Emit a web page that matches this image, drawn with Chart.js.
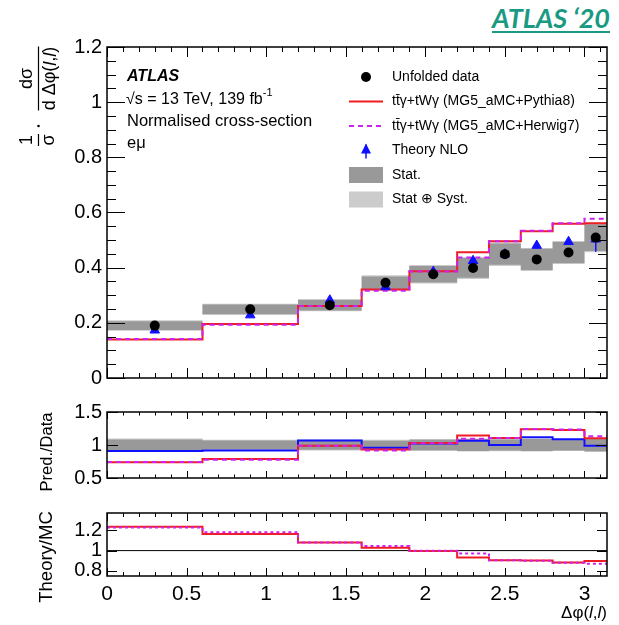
<!DOCTYPE html>
<html>
<head>
<meta charset="utf-8">
<script src="https://cdn.jsdelivr.net/npm/chart.js@4"></script>
<style>
  body { margin: 0; background: #fff; width: 619px; height: 625px; overflow: hidden; position: relative; }
  .pane { position: absolute; left: 0; }
  #badge {
    position: absolute; right: 9px; top: 1px;
    font-family: Lato, 'Open Sans', sans-serif; font-weight: bold; font-style: italic;
    font-size: 27px; color: #1a9a82; text-decoration: underline;
    text-decoration-thickness: 2px; text-underline-offset: 3px; white-space: nowrap;
  }
</style>
</head>
<body>
<div id="badge">ATLAS ‘20</div>
<canvas id="mainPad" class="pane" width="619" height="395" style="top:0"></canvas>
<canvas id="ratioPad" class="pane" width="619" height="100" style="top:395px"></canvas>
<canvas id="theoryPad" class="pane" width="619" height="130" style="top:495px"></canvas>
<script>
// Δφ(l,l) binning and normalised cross-section values
const binEdges = [0, 0.6, 1.2, 1.6, 1.9, 2.2, 2.4, 2.6, 2.8, 3.0, Math.PI];
const xTickValues = [0, 0.5, 1, 1.5, 2, 2.5, 3];
const unfoldedData = [0.190, 0.249, 0.264, 0.345, 0.376, 0.399, 0.449, 0.430, 0.455, 0.509];
const statRelErr   = [0.085, 0.070, 0.072, 0.066, 0.080, 0.090, 0.085, 0.090, 0.085, 0.095];
const totalRelErr  = [0.100, 0.080, 0.085, 0.080, 0.090, 0.100, 0.095, 0.097, 0.090, 0.105];
const mcPythia8    = [0.140, 0.196, 0.261, 0.321, 0.387, 0.456, 0.496, 0.532, 0.559, 0.561];
const mcHerwig7    = [0.141, 0.193, 0.261, 0.316, 0.386, 0.437, 0.496, 0.534, 0.561, 0.577];
const theoryNLO    = [0.173, 0.228, 0.282, 0.330, 0.385, 0.425, 0.449, 0.480, 0.494, 0.503];
const theoryErrDn  = [0.004, 0.004, 0.004, 0.004, 0.005, 0.006, 0.006, 0.008, 0.008, 0.045];
const theoryErrUp  = [0.004, 0.004, 0.004, 0.004, 0.005, 0.006, 0.006, 0.008, 0.008, 0.010];
const mainYTicks = [0, 0.2, 0.4, 0.6, 0.8, 1, 1.2];
const ratioYTicks = [0.5, 1, 1.5];
const theoryYTicks = [0.8, 1, 1.2];

const FONT = "'Liberation Sans', Arial, Helvetica, sans-serif";
const RED = '#f01c24', MAGENTA = '#cc22ee', BLUE = '#1010ff';
const DARK = '#999999', LIGHT = '#cccccc';

const centres = binEdges.slice(0, -1).map((e, i) => (e + binEdges[i + 1]) / 2);
const histo = vals => vals.flatMap((v, i) => [{x: binEdges[i], y: v}, {x: binEdges[i + 1], y: v}]);
const divide = (a, b) => a.map((v, i) => v / b[i]);
const clear = 'rgba(0,0,0,0)';

function stepLine(vals, color, width, dash, order) {
  return {data: histo(vals), borderColor: color, borderWidth: width, borderDash: dash || [],
          pointRadius: 0, fill: false, tension: 0, order};
}
function band(up, lo, color, order) {
  return [
    {data: histo(up), borderColor: clear, borderWidth: 0, pointRadius: 0, tension: 0,
     fill: '+1', backgroundColor: color, order},
    {data: histo(lo), borderColor: clear, borderWidth: 0, pointRadius: 0, tension: 0,
     fill: false, order: order + 1}
  ];
}

// ROOT-style inward ticks and frame
const framePlugin = {
  id: 'rootFrame',
  afterDraw(chart, args, o) {
    const {ctx, chartArea: a, scales: {x, y}} = chart;
    ctx.save();
    ctx.strokeStyle = '#000';
    ctx.lineWidth = 1;
    ctx.beginPath();
    for (let k = 0; k * o.xMinor <= Math.PI + 1e-9; k++) {
      const v = k * o.xMinor;
      const major = Math.abs(v / o.xMajor - Math.round(v / o.xMajor)) < 1e-6;
      const len = major ? o.xMajLen : o.xMinLen;
      const px = Math.round(x.getPixelForValue(v)) + 0.5;
      ctx.moveTo(px, a.bottom); ctx.lineTo(px, a.bottom - len);
      ctx.moveTo(px, a.top); ctx.lineTo(px, a.top + len);
    }
    const k0 = Math.ceil(y.min / o.yMinor - 1e-6), k1 = Math.floor(y.max / o.yMinor + 1e-6);
    for (let k = k0; k <= k1; k++) {
      const v = k * o.yMinor;
      const major = Math.abs(v / o.yMajor - Math.round(v / o.yMajor)) < 1e-6;
      const len = major ? o.yMajLen : o.yMinLen;
      const py = Math.round(y.getPixelForValue(v)) + 0.5;
      ctx.moveTo(a.left, py); ctx.lineTo(a.left + len, py);
      ctx.moveTo(a.right, py); ctx.lineTo(a.right - len, py);
    }
    ctx.stroke();
    ctx.lineWidth = 1.5;
    ctx.strokeRect(a.left, a.top, a.right - a.left, a.bottom - a.top);
    ctx.restore();
  }
};

function drawRuns(ctx, runs, x, y, align) {
  let total = 0;
  runs.forEach(r => { ctx.font = r[1]; total += ctx.measureText(r[0]).width; });
  let cx = align === 'center' ? x - total / 2 : align === 'right' ? x - total : x;
  ctx.textAlign = 'left';
  runs.forEach(r => { ctx.font = r[1]; ctx.fillText(r[0], cx, y + (r[2] || 0)); cx += ctx.measureText(r[0]).width; });
}
function vertical(ctx, cx, cy, fn) {
  ctx.save(); ctx.translate(cx, cy); ctx.rotate(-Math.PI / 2); fn(); ctx.restore();
}

const mainText = {
  id: 'mainText',
  afterDraw(chart) {
    const ctx = chart.ctx;
    ctx.save();
    ctx.fillStyle = '#000';
    ctx.textBaseline = 'middle';
    // experiment labels
    ctx.font = `italic bold 16px ${FONT}`;
    ctx.textAlign = 'left';
    ctx.fillText('ATLAS', 127, 77);
    drawRuns(ctx, [['√s = 13 TeV, 139 fb', `16px ${FONT}`], ['-1', `11px ${FONT}`, -7]], 126, 99.5, 'left');
    ctx.font = `16.5px ${FONT}`;
    ctx.fillText('Normalised cross-section', 127, 121);
    ctx.fillText('eμ', 127, 143);

    // legend
    const rows = [77, 101.5, 126, 150.5, 175, 199.5];
    const labels = ['Unfolded data', 'tt̄γ+tWγ (MG5_aMC+Pythia8)', 'tt̄γ+tWγ (MG5_aMC+Herwig7)',
                    'Theory NLO', 'Stat.', 'Stat ⊕ Syst.'];
    ctx.font = `14px ${FONT}`;
    labels.forEach((s, i) => ctx.fillText(s, 392, rows[i]));
    ctx.beginPath(); ctx.arc(366, rows[0], 5, 0, 2 * Math.PI); ctx.fill();
    ctx.lineWidth = 2;
    ctx.strokeStyle = RED;
    ctx.beginPath(); ctx.moveTo(349, rows[1]); ctx.lineTo(383, rows[1]); ctx.stroke();
    ctx.strokeStyle = MAGENTA; ctx.setLineDash([5, 4]);
    ctx.beginPath(); ctx.moveTo(349, rows[2]); ctx.lineTo(383, rows[2]); ctx.stroke();
    ctx.setLineDash([]);
    ctx.strokeStyle = BLUE; ctx.fillStyle = BLUE; ctx.lineWidth = 1.5;
    ctx.beginPath(); ctx.moveTo(366, rows[3] - 6); ctx.lineTo(366, rows[3] + 8); ctx.stroke();
    ctx.beginPath(); ctx.moveTo(366, rows[3] - 7); ctx.lineTo(371, rows[3] + 3);
    ctx.lineTo(361, rows[3] + 3); ctx.closePath(); ctx.fill();
    ctx.fillStyle = DARK; ctx.fillRect(349, rows[4] - 8, 34, 16);
    ctx.fillStyle = LIGHT; ctx.fillRect(349, rows[5] - 8, 34, 16);

    // y-axis title: 1/σ · dσ / dΔφ(l,l)
    ctx.fillStyle = '#000'; ctx.strokeStyle = '#000'; ctx.lineWidth = 1.2;
    const f = `18px ${FONT}`, fi = `italic 18px ${FONT}`;
    vertical(ctx, 38.5, 78.5, () => {
      ctx.textBaseline = 'middle';
      drawRuns(ctx, [['dσ', f]], 0, -11, 'center');
      drawRuns(ctx, [['d Δφ(', f], ['l', fi], [',', f], ['l', fi], [')', f]], 0, 12, 'center');
      ctx.beginPath(); ctx.moveTo(-32, 0); ctx.lineTo(32, 0); ctx.stroke();
    });
    vertical(ctx, 38.5, 140, () => {
      ctx.textBaseline = 'middle';
      drawRuns(ctx, [['1', f]], 0, -11, 'center');
      drawRuns(ctx, [['σ', f]], 0, 11, 'center');
      ctx.beginPath(); ctx.moveTo(-6, 0); ctx.lineTo(6, 0); ctx.stroke();
    });
    ctx.beginPath(); ctx.arc(38.5, 126, 1.3, 0, 2 * Math.PI); ctx.fill();
    ctx.restore();
  }
};

function sideTitle(id, text, cx, cy, size) {
  return {
    id,
    afterDraw(chart) {
      const ctx = chart.ctx;
      ctx.save();
      ctx.fillStyle = '#000';
      vertical(ctx, cx, cy, () => {
        ctx.textBaseline = 'middle';
        drawRuns(ctx, [[text, `${size}px ${FONT}`]], 0, 0, 'center');
      });
      ctx.restore();
    }
  };
}

const xTitle = {
  id: 'xTitle',
  afterDraw(chart) {
    const ctx = chart.ctx;
    ctx.save();
    ctx.fillStyle = '#000';
    ctx.textBaseline = 'middle';
    const f = `17px ${FONT}`, fi = `italic 17px ${FONT}`;
    drawRuns(ctx, [['Δφ(', f], ['l', fi], [',', f], ['l', fi], [')', f]], 607, 118, 'right');
    ctx.restore();
  }
};

function yScale(min, max, ticks, width) {
  return {
    type: 'linear', min, max, position: 'left',
    grid: {display: false, drawTicks: false}, border: {display: false},
    afterBuildTicks: s => { s.ticks = ticks.map(v => ({value: v})); },
    afterFit: s => { s.width = width; },
    ticks: {autoSkip: false, padding: 5, color: '#000', font: {family: FONT, size: 20},
            callback: v => String(Math.round(v * 100) / 100)}
  };
}
function xScale(show) {
  return {
    type: 'linear', min: 0, max: Math.PI, display: show,
    grid: {display: false, drawTicks: false}, border: {display: false},
    afterBuildTicks: s => { s.ticks = xTickValues.map(v => ({value: v})); },
    afterFit: s => { if (show) s.height = 49; },
    ticks: {autoSkip: false, maxRotation: 0, padding: 6, color: '#000', font: {family: FONT, size: 21},
            callback: v => String(v)}
  };
}
function options(padding, yCfg, showX, frame) {
  return {
    responsive: false, animation: false, events: [],
    layout: {padding},
    plugins: {legend: {display: false}, tooltip: {enabled: false}, rootFrame: frame},
    scales: {x: xScale(showX), y: yCfg}
  };
}

// main panel
const dataUpTot = unfoldedData.map((v, i) => v * (1 + totalRelErr[i]));
const dataLoTot = unfoldedData.map((v, i) => v * (1 - totalRelErr[i]));
const dataUpStat = unfoldedData.map((v, i) => v * (1 + statRelErr[i]));
const dataLoStat = unfoldedData.map((v, i) => v * (1 - statRelErr[i]));
const nloBars = centres.flatMap((c, i) => [
  {x: c, y: theoryNLO[i] - theoryErrDn[i]}, {x: c, y: theoryNLO[i] + theoryErrUp[i]}, {x: c, y: null}]);

new Chart(document.getElementById('mainPad'), {
  type: 'line',
  data: {datasets: [
    ...band(dataUpTot, dataLoTot, LIGHT, 30),
    ...band(dataUpStat, dataLoStat, DARK, 20),
    stepLine(mcPythia8, RED, 2, [], 11),
    stepLine(mcHerwig7, MAGENTA, 2, [5, 4], 10),
    {data: nloBars, borderColor: BLUE, borderWidth: 1.5, pointRadius: 0, spanGaps: false, fill: false, order: 4},
    {data: centres.map((c, i) => ({x: c, y: theoryNLO[i]})), showLine: false, pointStyle: 'triangle',
     pointRadius: 5.5, backgroundColor: BLUE, borderColor: BLUE, borderWidth: 1, order: 3},
    {data: centres.map((c, i) => ({x: c, y: unfoldedData[i]})), showLine: false, pointStyle: 'circle',
     pointRadius: 5, backgroundColor: '#000', borderColor: '#000', borderWidth: 0, order: 1}
  ]},
  options: options({top: 47, right: 12, bottom: 15, left: 0}, yScale(0, 1.2, mainYTicks, 107), false,
    {xMajor: 0.5, xMinor: 0.1, xMajLen: 10, xMinLen: 5, yMajor: 0.2, yMinor: 0.05, yMajLen: 18, yMinLen: 9}),
  plugins: [framePlugin, mainText]
});

// prediction / data panel
new Chart(document.getElementById('ratioPad'), {
  type: 'line',
  data: {datasets: [
    ...band(totalRelErr.map(e => 1 + e), totalRelErr.map(e => 1 - e), LIGHT, 30),
    ...band(statRelErr.map(e => 1 + e), statRelErr.map(e => 1 - e), DARK, 20),
    stepLine(divide(theoryNLO, unfoldedData), BLUE, 2, [], 12),
    stepLine(divide(mcPythia8, unfoldedData), RED, 2, [], 11),
    stepLine(divide(mcHerwig7, unfoldedData), MAGENTA, 2, [5, 4], 10)
  ]},
  options: options({top: 14, right: 12, bottom: 12, left: 0}, yScale(0.5, 1.5, ratioYTicks, 107), false,
    {xMajor: 0.5, xMinor: 0.1, xMajLen: 7, xMinLen: 3.5, yMajor: 0.5, yMinor: 0.5, yMajLen: 11, yMinLen: 5}),
  plugins: [framePlugin, sideTitle('predTitle', 'Pred./Data', 47, 57, 16.5)]
});

// theory / MC panel
new Chart(document.getElementById('theoryPad'), {
  type: 'line',
  data: {datasets: [
    {data: [{x: 0, y: 1}, {x: Math.PI, y: 1}], borderColor: '#000', borderWidth: 1, pointRadius: 0, fill: false, order: 20},
    stepLine(divide(theoryNLO, mcPythia8), RED, 2, [], 11),
    stepLine(divide(theoryNLO, mcHerwig7), MAGENTA, 2, [3, 3], 10)
  ]},
  options: options({top: 18, right: 12, bottom: 0, left: 0}, yScale(0.75, 1.37, theoryYTicks, 107), true,
    {xMajor: 0.5, xMinor: 0.1, xMajLen: 8, xMinLen: 4, yMajor: 0.2, yMinor: 0.2, yMajLen: 10, yMinLen: 5}),
  plugins: [framePlugin, sideTitle('mcTitle', 'Theory/MC', 47, 62, 18.5), xTitle]
});
</script>
</body>
</html>
